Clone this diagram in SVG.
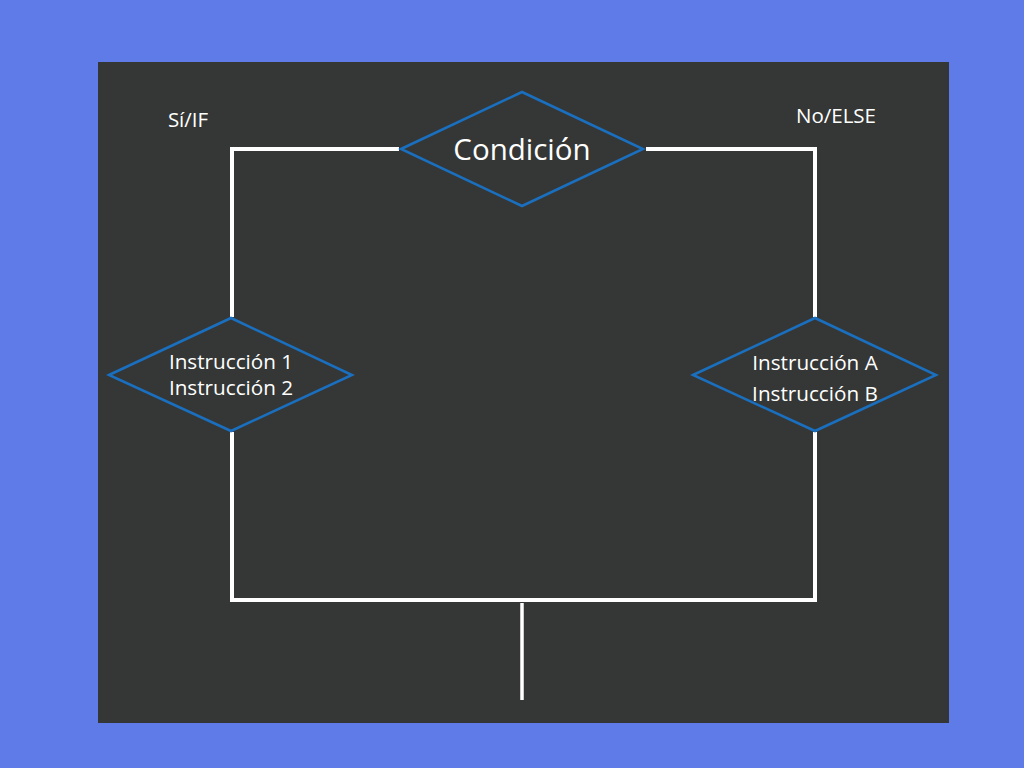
<svg xmlns="http://www.w3.org/2000/svg" width="1024" height="768" viewBox="0 0 1024 768">
<style>
.dia{fill:none;stroke:#1a6fbf;stroke-width:2.5;stroke-linejoin:miter}
.ln{fill:none;stroke:#ffffff;stroke-width:4;stroke-linecap:square;stroke-linejoin:miter}
.t{font-family:"Open Sans","Noto Sans",sans-serif;fill:#ffffff;text-anchor:middle}
</style>
<rect x="0" y="0" width="1024" height="768" fill="#5f7be8"/>
<rect x="98" y="62" width="851" height="661" fill="#353736"/>
<g id="connectors">
<polyline class="ln" points="397,149 232,149 232,315"/>
<polyline class="ln" points="648,149 815,149 815,315"/>
<polyline class="ln" points="232,434 232,600 815,600 815,434"/>
<line x1="522" y1="603" x2="522" y2="700" stroke="#ffffff" stroke-width="3.5"/>
</g>
<g id="cond">
<polygon class="dia" points="401,149 522,92 643,149 522,206"/>
<text class="t" x="522" y="160" font-size="29.5">Condición</text>
</g>
<g id="si">
<text class="t" x="188" y="127" font-size="20.5">Sí/IF</text>
</g>
<g id="no">
<text class="t" x="836" y="123" font-size="20.5">No/ELSE</text>
</g>
<g id="left">
<polygon class="dia" points="109,375 231,318 352,375 231,431"/>
<text class="t" x="231" y="369" font-size="20.7">Instrucción 1</text>
<text class="t" x="231" y="395" font-size="20.7">Instrucción 2</text>
</g>
<g id="right">
<polygon class="dia" points="693,375 815,318 936,375 815,431"/>
<text class="t" x="815" y="370" font-size="20.7">Instrucción A</text>
<text class="t" x="815" y="401" font-size="20.7">Instrucción B</text>
</g>
</svg>
